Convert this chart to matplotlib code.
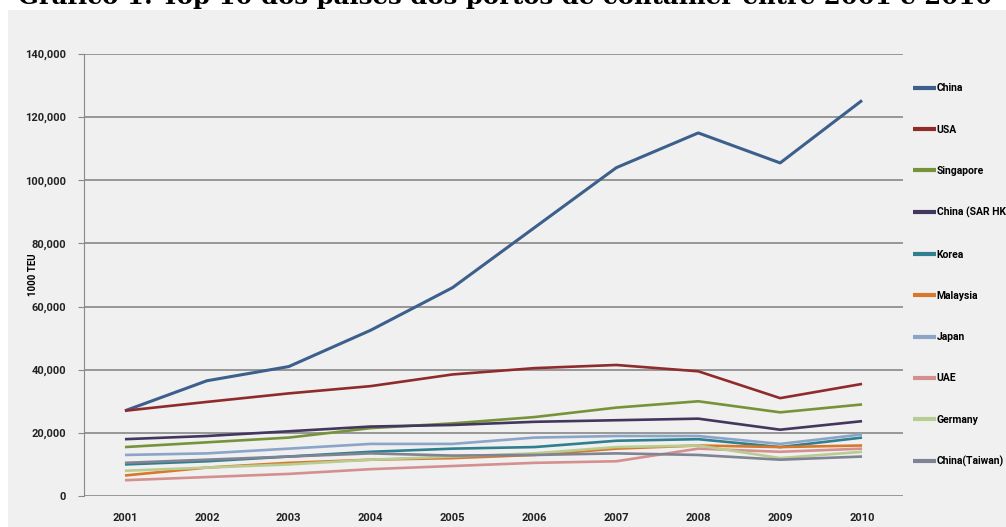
import matplotlib
matplotlib.use('Agg')
import matplotlib.pyplot as plt
from matplotlib.patches import Rectangle
from matplotlib.ticker import FuncFormatter

plt.rcParams['font.family'] = ['Roboto', 'DejaVu Sans']

# dados (1000 TEU)
years = ['2001', '2002', '2003', '2004', '2005', '2006', '2007', '2008', '2009', '2010']
china = [27000, 36500, 41000, 52500, 66000, 85000, 104000, 115000, 105500, 125300]
usa = [27000, 29800, 32500, 34800, 38500, 40500, 41500, 39500, 31000, 35500]
singapore = [15500, 17000, 18500, 21500, 23000, 25000, 28000, 30000, 26500, 29000]
hong_kong = [18000, 19000, 20500, 22000, 22500, 23500, 24000, 24500, 21000, 23700]
korea = [10000, 11000, 12500, 14000, 15000, 15500, 17500, 18000, 15500, 18500]
malaysia = [6500, 9000, 10500, 11500, 12000, 13000, 15000, 16000, 15500, 16000]
japan = [13000, 13500, 15000, 16500, 16500, 18500, 19000, 19000, 16500, 19500]
uae = [5000, 6000, 7000, 8500, 9500, 10500, 11000, 15000, 14000, 15000]
germany = [8000, 9000, 10000, 11500, 12500, 13500, 15500, 16000, 12000, 14000]
taiwan = [10500, 11500, 12500, 13500, 12800, 13000, 13500, 13000, 11500, 12500]

series = [
    ('China', china, '#3d5f8c'),
    ('USA', usa, '#8f2b2b'),
    ('Singapore', singapore, '#779339'),
    ('China (SAR HK)', hong_kong, '#43365f'),
    ('Korea', korea, '#2f7f8f'),
    ('Malaysia', malaysia, '#d9782a'),
    ('Japan', japan, '#8aa5c8'),
    ('UAE', uae, '#d4908f'),
    ('Germany', germany, '#b9cc92'),
    ('China(Taiwan)', taiwan, '#7f8393'),
]

fig = plt.figure(figsize=(10.06, 5.27), dpi=100)
fig.patch.set_facecolor('white')
fig.patches.append(Rectangle((0.008, 0), 0.992, 1 - 10 / 527, transform=fig.transFigure,
                             facecolor='#f0f0f0', edgecolor='none', zorder=-1))

# título cortado no topo
fig.text(0.018, 1 - 9 / 527, 'Gráfico 1: Top 10 dos países dos portos de container entre 2001 e 2010',
         family='DejaVu Serif', fontweight='bold', fontsize=17.6, va='bottom', ha='left')

ax = fig.add_axes([84 / 1006, 1 - 496 / 527, (903 - 84) / 1006, (496 - 54) / 527])
ax.set_facecolor('none')

x = list(range(len(years)))
for name, vals, color in series:
    lw = 2.2 if name == 'China' else 1.9
    ax.plot(x, vals, color=color, lw=lw, label=name, solid_capstyle='butt')

ax.set_xlim(-0.5, len(years) - 0.5)
ax.set_ylim(0, 140000)
ax.set_yticks(range(0, 140001, 20000))
ax.yaxis.set_major_formatter(FuncFormatter(lambda v, p: f'{int(v):,}'))
ax.set_xticks(x)
ax.set_xticklabels(years)
ax.grid(axis='y', color='#888888', lw=1.2)
ax.set_axisbelow(True)
for s in ['top', 'right', 'bottom']:
    ax.spines[s].set_visible(False)
ax.spines['left'].set_color('#888888')
ax.tick_params(axis='y', length=4, color='#888888', labelsize=8, pad=9)
ax.tick_params(axis='x', length=0, labelsize=8, pad=12)
for lbl in ax.get_xticklabels() + ax.get_yticklabels():
    lbl.set_fontweight('bold')
    lbl.set_color('#222222')
ax.set_ylabel('1000 TEU', fontsize=7, fontweight='bold')
ax.yaxis.set_label_coords(-46 / 819, 0.5)

leg = ax.legend(loc='upper left', bbox_to_anchor=(1.0, 0.957), frameon=False,
                fontsize=7.5, handlelength=2.2, handletextpad=0.05,
                labelspacing=3.0, borderaxespad=0.6)
for t in leg.get_texts():
    t.set_fontweight('bold')
for h in leg.get_lines():
    h.set_linewidth(3)

fig.savefig('out.png', dpi=100)
